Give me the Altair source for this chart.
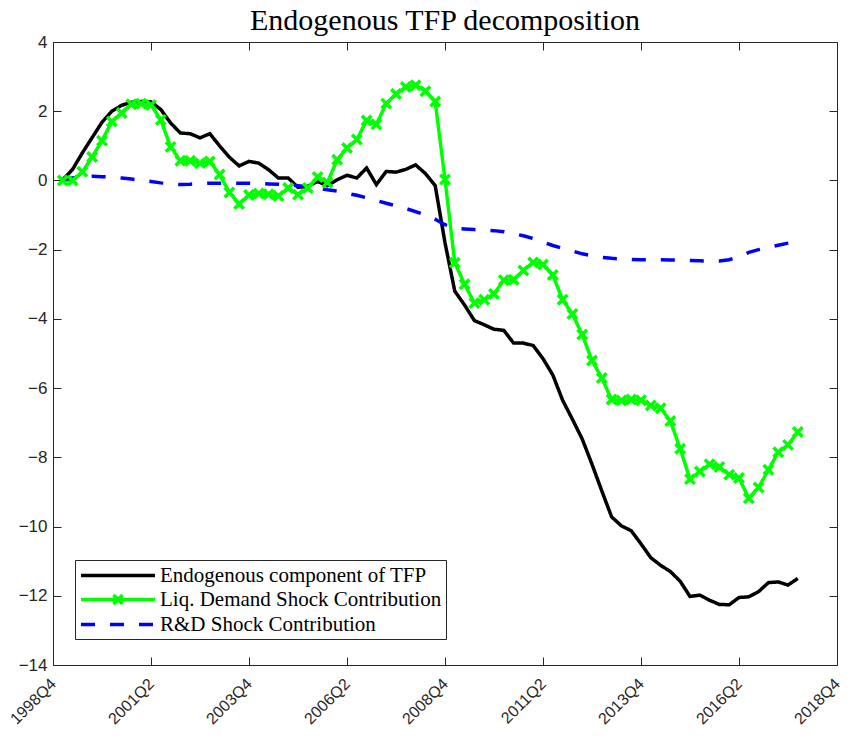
import altair as alt
import pandas as pd

# ---------------- data ----------------
first_quarter = "1999Q1"
tick_labels = ["1998Q4", "2001Q2", "2003Q4", "2006Q2", "2008Q4",
               "2011Q2", "2013Q4", "2016Q2", "2018Q4"]
y_ticks = [-14, -12, -10, -8, -6, -4, -2, 0, 2, 4]

series_names = ["Endogenous component of TFP",
                "Liq. Demand Shock Contribution",
                "R&D Shock Contribution"]
series_colors = ["#000000", "#00FF00", "#0000FF"]

endogenous = [
    0.02, 0.32, 0.80, 1.24, 1.68, 2.00, 2.17, 2.26, 2.28, 2.27,
    2.05, 1.66, 1.37, 1.35, 1.23, 1.35, 1.00, 0.67, 0.42, 0.55,
    0.50, 0.31, 0.07, 0.07, -0.20, -0.17, -0.03, -0.15, 0.02, 0.15,
    0.07, 0.36, -0.12, 0.26, 0.24, 0.32, 0.45, 0.20, -0.15, -1.80,
    -3.20, -3.60, -4.05, -4.17, -4.30, -4.33, -4.70, -4.70, -4.77, -5.15,
    -5.62, -6.35, -6.90, -7.47, -8.20, -8.97, -9.72, -9.98, -10.12, -10.50,
    -10.90, -11.12, -11.30, -11.58, -12.02, -11.98, -12.13, -12.25, -12.26, -12.05,
    -12.03, -11.88, -11.62, -11.60, -11.69, -11.50]

liq_demand = [
    0.00, 0.00, 0.25, 0.68, 1.15, 1.70, 1.95, 2.20, 2.22, 2.18,
    1.75, 0.97, 0.57, 0.57, 0.50, 0.55, 0.17, -0.35, -0.68, -0.42,
    -0.38, -0.40, -0.45, -0.22, -0.41, -0.22, 0.10, -0.06, 0.60, 0.94,
    1.18, 1.73, 1.62, 2.22, 2.50, 2.70, 2.75, 2.58, 2.28, 0.03,
    -2.38, -3.00, -3.54, -3.45, -3.28, -2.88, -2.87, -2.60, -2.37, -2.43,
    -2.73, -3.45, -3.86, -4.45, -5.20, -5.71, -6.33, -6.36, -6.33, -6.35,
    -6.50, -6.58, -6.95, -7.75, -8.63, -8.41, -8.20, -8.28, -8.50, -8.60,
    -9.18, -8.87, -8.36, -7.85, -7.64, -7.27]

rd_shock = [
    0.03, 0.07, 0.10, 0.12, 0.11, 0.10, 0.07, 0.04, 0.00, -0.03,
    -0.07, -0.10, -0.12, -0.11, -0.09, -0.08, -0.08, -0.08, -0.08, -0.08,
    -0.09, -0.10, -0.11, -0.13, -0.15, -0.18, -0.22, -0.27, -0.31, -0.37,
    -0.43, -0.50, -0.58, -0.66, -0.73, -0.81, -0.90, -1.00, -1.12, -1.28,
    -1.38, -1.40, -1.42, -1.43, -1.45, -1.48, -1.54, -1.60, -1.68, -1.78,
    -1.88, -1.96, -2.04, -2.12, -2.18, -2.22, -2.25, -2.27, -2.28, -2.29,
    -2.29, -2.29, -2.30, -2.30, -2.31, -2.32, -2.33, -2.33, -2.29, -2.20,
    -2.08, -2.00, -1.93, -1.87, -1.81, -1.75]


# ---------------- helpers ----------------
def q_index(label):
    """quarters elapsed since 1998Q4"""
    year, q = int(label[:4]), int(label[-1])
    return (year - 1998) * 4 + q - 4


def quarter_labels(start, n):
    year, q = int(start[:4]), int(start[-1])
    out = []
    for _ in range(n):
        out.append(f"{year}Q{q}")
        q += 1
        if q > 4:
            q, year = 1, year + 1
    return out


quarters = quarter_labels(first_quarter, len(endogenous))
rows = []
for name, vals in zip(series_names, [endogenous, liq_demand, rd_shock]):
    for qlab, v in zip(quarters, vals):
        rows.append({"quarter": qlab, "t": q_index(qlab), "series": name, "value": v})
df = pd.DataFrame(rows)
df_green = df[df["series"] == series_names[1]]

x_tick_vals = [q_index(l) for l in tick_labels]
label_expr = ("[" + ",".join(f"'{l}'" for l in tick_labels) + "]"
              "[indexof([" + ",".join(str(v) for v in x_tick_vals) + "], datum.value)]")

W, H = 784, 623
AX = "#262626"
SANS = "Liberation Sans"
SERIF = "Liberation Serif"

xscale = alt.Scale(domain=[x_tick_vals[0], x_tick_vals[-1]], nice=False, zero=False)
yscale = alt.Scale(domain=[y_ticks[0], y_ticks[-1]], nice=False, zero=False)
cscale = alt.Scale(domain=series_names, range=series_colors)
dscale = alt.Scale(domain=series_names, range=[[1, 0], [1, 0], [14, 15]])
wscale = alt.Scale(domain=series_names, range=[3.5, 3.5, 4.5])
# legend swatches: long line samples (symbol size 361 -> 9.5 px per path unit)
line_path = "M-1,0L6.79,0"
line_x_path = "M-1,0L6.79,0M2.42,-0.47L3.37,0.47M3.37,-0.47L2.42,0.47"
sscale = alt.Scale(domain=series_names, range=[line_path, line_x_path, line_path])

leg = alt.Legend(
    title=None, orient="none", legendX=22, legendY=518,
    strokeColor=AX, fillColor="white", padding=4, cornerRadius=0,
    rowPadding=2, labelOffset=58,
    labelFont=SERIF, labelFontSize=21, labelColor="#000000", labelLimit=400,
    symbolStrokeWidth=3.5, symbolSize=361, symbolOpacity=1,
)

# ---------------- layers ----------------
legend_layer = alt.Chart(df).transform_filter("false").mark_point(
    filled=False, strokeWidth=3.5, size=361, opacity=1,
).encode(
    x=alt.X("t:Q", scale=xscale, title=None,
            axis=alt.Axis(orient="bottom", offset=-H, values=x_tick_vals, labels=False,
                          tickSize=8, tickColor=AX, domain=False, grid=False)),
    y=alt.Y("value:Q", scale=yscale, title=None,
            axis=alt.Axis(orient="left", offset=-W, values=y_ticks, labels=False,
                          tickSize=8, tickColor=AX, domain=False, grid=False)),
    color=alt.Color("series:N", scale=cscale, title=None, legend=leg),
    shape=alt.Shape("series:N", scale=sscale, title=None, legend=leg),
    strokeDash=alt.StrokeDash("series:N", scale=dscale, title=None, legend=leg),
)

lines = alt.Chart(df).mark_line().encode(
    x=alt.X("t:Q", scale=xscale, title=None,
            axis=alt.Axis(orient="bottom", values=x_tick_vals, labelExpr=label_expr,
                          labelAngle=-45, labelAlign="right", labelBaseline="middle",
                          labelPadding=16, ticks=False, tickSize=0, domain=False, grid=False,
                          labelFont=SANS, labelFontSize=16, labelColor=AX)),
    y=alt.Y("value:Q", scale=yscale, title=None,
            axis=alt.Axis(orient="left", values=y_ticks, ticks=False, tickSize=0,
                          domain=False, grid=False, labelPadding=6,
                          labelFont=SANS, labelFontSize=17, labelColor=AX)),
    color=alt.Color("series:N", scale=cscale, title=None),
    strokeDash=alt.StrokeDash("series:N", scale=dscale, title=None),
    strokeWidth=alt.StrokeWidth("series:N", scale=wscale, legend=None),
)

points = alt.Chart(df_green).mark_point(
    shape="M-1,-1L1,1M1,-1L-1,1", filled=False, color="#00FF00",
    strokeWidth=3.5, size=90, opacity=1,
).encode(
    x=alt.X("t:Q", scale=xscale, title=None,
            axis=alt.Axis(orient="top", offset=-H, values=x_tick_vals, labels=False,
                          tickSize=8, tickColor=AX, domain=False, grid=False)),
    y=alt.Y("value:Q", scale=yscale, title=None,
            axis=alt.Axis(orient="right", offset=-W, values=y_ticks, labels=False,
                          tickSize=8, tickColor=AX, domain=False, grid=False)),
)

chart = alt.layer(legend_layer, lines, points).resolve_axis(
    x="independent", y="independent"
).properties(
    width=W, height=H,
    autosize="none",
    padding={"left": 45, "top": 34, "right": 8, "bottom": 70},
    title=alt.TitleParams("Endogenous TFP decomposition", font=SERIF, fontSize=30,
                          fontWeight="normal", color="#000000", anchor="middle",
                          frame="group", baseline="bottom", offset=-33),
).configure_view(
    stroke=AX, strokeWidth=1
)

chart.save("out.html", embed_options={"renderer": "svg", "actions": False})
